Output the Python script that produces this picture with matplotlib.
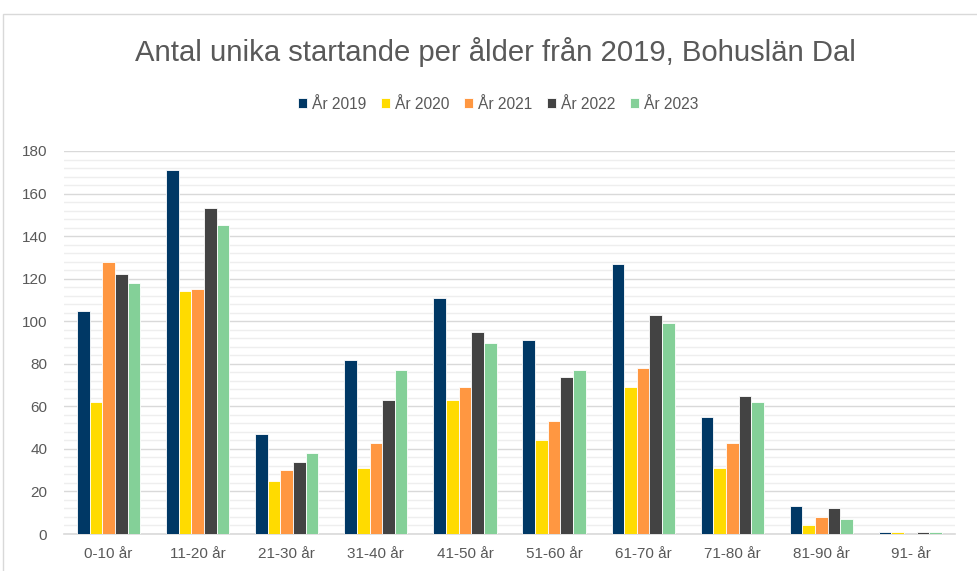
import matplotlib
matplotlib.use("Agg")
import matplotlib.pyplot as plt
import numpy as np
from matplotlib.patches import Rectangle
from matplotlib.ticker import MultipleLocator

plt.rcParams['font.family'] = ['Liberation Sans', 'DejaVu Sans']

categories = ["0-10 år", "11-20 år", "21-30 år", "31-40 år", "41-50 år",
              "51-60 år", "61-70 år", "71-80 år", "81-90 år", "91- år"]
series_names = ["År 2019", "År 2020", "År 2021", "År 2022", "År 2023"]
y2019 = [105, 171, 47, 82, 111, 91, 127, 55, 13, 1]
y2020 = [62, 114, 25, 31, 63, 44, 69, 31, 4, 1]
y2021 = [128, 115, 30, 43, 69, 53, 78, 43, 8, 0]
y2022 = [122, 153, 34, 63, 95, 74, 103, 65, 12, 1]
y2023 = [118, 145, 38, 77, 90, 77, 99, 62, 7, 1]
colors = ["#003865", "#FFDB00", "#FF9741", "#434343", "#84D098"]

series = [y2019, y2020, y2021, y2022, y2023]

fig = plt.figure(figsize=(9.77, 5.71), dpi=100)
W, H = 977, 571
ax = fig.add_axes([64 / W, 1 - 534 / H, (955 - 64) / W, (534 - 151) / H])

n = len(series)
group_w = 0.71
bw = group_w / n
x = np.arange(len(categories))
for i, (vals, c, name) in enumerate(zip(series, colors, series_names)):
    ax.bar(x - group_w / 2 + bw * (i + 0.5), vals, width=bw, color=c,
           edgecolor="white", linewidth=0.6, label=name, zorder=3)

ax.set_xlim(-0.5, len(categories) - 0.5)
ax.set_ylim(0, 180)
ax.yaxis.set_major_locator(MultipleLocator(20))
ax.yaxis.set_minor_locator(MultipleLocator(4))
ax.grid(which="major", axis="y", color="#D9D9D9", linewidth=1.0, zorder=0)
ax.grid(which="minor", axis="y", color="#EEEEEE", linewidth=1.0, zorder=0)
ax.set_axisbelow(True)
for s in ["top", "right", "left"]:
    ax.spines[s].set_visible(False)
ax.spines["bottom"].set_color("#D9D9D9")
ax.spines["bottom"].set_linewidth(1.2)
ax.tick_params(axis="both", which="both", length=0, labelsize=11, colors="#595959")
ax.tick_params(axis="x", pad=9)
ax.tick_params(axis="y", pad=12)
ax.set_xticks(x)
ax.set_xticklabels(categories)

fig.text(495 / W, 1 - 52 / H, "Antal unika startande per ålder från 2019, Bohuslän Dal",
         ha="center", va="center", fontsize=21.1, color="#595959")

fig.legend(loc="center", bbox_to_anchor=(498 / W, 1 - 104 / H), ncol=5,
           frameon=False, fontsize=11.2, labelcolor="#595959",
           handlelength=0.6, handleheight=0.6, handletextpad=0.3, columnspacing=0.95)

fig.patches.append(Rectangle((3 / W, -0.1), 1.2, 1 - 14 / H + 0.1,
                             transform=fig.transFigure, fill=False,
                             edgecolor="#D9D9D9", linewidth=1.0))

fig.savefig("out.png", dpi=100)
